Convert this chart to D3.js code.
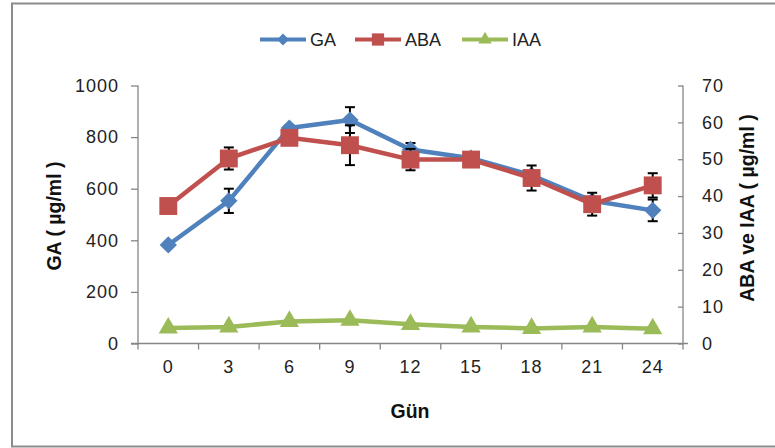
<!DOCTYPE html>
<html>
<head>
<meta charset="utf-8">
<script src="https://cdn.jsdelivr.net/npm/d3@7"></script>
<style>
  html, body { margin: 0; padding: 0; background: #fff; }
  svg { display: block; }
  .tick text { font-family: "Liberation Sans", Arial, sans-serif; }
</style>
</head>
<body>
<svg id="chart" width="775" height="448"></svg>
<script>
// Sampling days
const days = [0, 3, 6, 9, 12, 15, 18, 21, 24];

// GA (left axis, µg/ml)
const gaValues = [382, 553, 835, 866, 752, 718, 652, 553, 516];
const gaErrors = [8, 47, 10, 50, 25, 10, 12, 15, 42];

// ABA (right axis, µg/ml)
const abaValues = [37.3, 50.2, 55.8, 53.8, 49.9, 49.9, 44.9, 37.8, 42.9];
const abaErrors = [0.5, 3.0, 1.0, 5.4, 2.9, 0.5, 3.4, 3.1, 3.3];

// IAA (right axis, µg/ml)
const iaaValues = [4.2, 4.5, 6.0, 6.3, 5.2, 4.5, 4.1, 4.5, 4.0];
const iaaErrors = [0.3, 0.2, 0.3, 0.3, 0.2, 0.2, 0.3, 0.2, 0.3];

const leftTicks = [0, 200, 400, 600, 800, 1000];
const rightTicks = [0, 10, 20, 30, 40, 50, 60, 70];

const svg = d3.select("#chart");

// outer chart frame
svg.append("rect")
  .attr("x", 12).attr("y", 3.5)
  .attr("width", 800).attr("height", 443)
  .attr("fill", "none").attr("stroke", "#8c8c8c").attr("stroke-width", 2);

const plot = { left: 138, right: 683, top: 85.5, bottom: 343.5 };

const x = d3.scaleBand().domain(days).range([plot.left, plot.right]).padding(0);
const xc = d => x(d) + x.bandwidth() / 2;
const yL = d3.scaleLinear().domain([0, 1000]).range([plot.bottom, plot.top]);
const yR = d3.scaleLinear().domain([0, 70]).range([plot.bottom, plot.top]);

const axisColor = "#868686";
const fontTick = "18px";

// left axis
const gL = svg.append("g").attr("transform", `translate(${plot.left},0)`)
  .call(d3.axisLeft(yL).tickValues(leftTicks).tickSize(7).tickPadding(12).tickFormat(d3.format("d")));
// right axis
const gR = svg.append("g").attr("transform", `translate(${plot.right},0)`)
  .call(d3.axisLeft(yR).tickValues(rightTicks).tickSize(5).tickPadding(0).tickFormat(d3.format("d")));
gR.selectAll(".tick text").attr("x", 19).attr("text-anchor", "start");
// bottom axis (labels at category centres, ticks at category boundaries)
const gB = svg.append("g").attr("transform", `translate(0,${plot.bottom})`)
  .call(d3.axisBottom(x).tickSize(0).tickPadding(24));
gB.selectAll(".tick text").attr("dy", "0.3em");
const boundaries = d3.range(days.length + 1).map(i => plot.left + i * x.step());
gB.selectAll("line.bnd").data(boundaries).join("line").attr("class", "bnd")
  .attr("x1", d => d).attr("x2", d => d).attr("y1", 0).attr("y2", 6)
  .attr("stroke", axisColor).attr("stroke-width", 1.3);

[gL, gR, gB].forEach(g => {
  g.selectAll(".domain").attr("stroke", axisColor).attr("stroke-width", 1.3);
  g.selectAll(".tick line").attr("stroke", axisColor).attr("stroke-width", 1.3);
  g.selectAll(".tick text").attr("fill", "#222").style("font-size", fontTick)
    .style("letter-spacing", "1px");
});
gL.select(".domain").attr("d", `M0,${plot.top}V${plot.bottom}`);
gR.select(".domain").attr("d", `M0,${plot.top}V${plot.bottom}`);
gB.select(".domain").attr("d", `M${plot.left - 7},0H${plot.right + 5}`);

// axis titles
const titleFont = "Liberation Sans, Arial, sans-serif";
const titleSize = 19.5;
svg.append("text")
  .attr("transform", `translate(54,216) rotate(-90)`)
  .attr("text-anchor", "middle").attr("dominant-baseline", "central")
  .attr("font-family", titleFont).attr("font-weight", "bold").attr("font-size", titleSize)
  .attr("fill", "#111").text("GA ( µg/ml )");
svg.append("text")
  .attr("transform", `translate(747,208) rotate(-90)`)
  .attr("text-anchor", "middle").attr("dominant-baseline", "central")
  .attr("font-family", titleFont).attr("font-weight", "bold").attr("font-size", titleSize)
  .attr("fill", "#111").text("ABA ve IAA ( µg/ml )");
svg.append("text")
  .attr("x", 410).attr("y", 411)
  .attr("text-anchor", "middle").attr("dominant-baseline", "central")
  .attr("font-family", titleFont).attr("font-weight", "bold").attr("font-size", titleSize)
  .attr("fill", "#111").text("Gün");

// marker shapes
const diamond = d3.symbol().type(d3.symbolSquare).size(150);
const square = d3.symbol().type(d3.symbolSquare).size(320);
const triangle = d3.symbol().type(d3.symbolTriangle).size(160);

const series = [
  { name: "GA", values: gaValues, errors: gaErrors, y: yL, color: "#4F81BD", sym: diamond, rot: 45 },
  { name: "ABA", values: abaValues, errors: abaErrors, y: yR, color: "#C0504D", sym: square, rot: 0 },
  { name: "IAA", values: iaaValues, errors: iaaErrors, y: yR, color: "#9BBB59", sym: triangle, rot: 0 }
];

series.forEach(s => {
  const pts = days.map((d, i) => ({ d, v: s.values[i], e: s.errors[i] }));
  const g = svg.append("g");
  g.append("path")
    .datum(pts)
    .attr("fill", "none").attr("stroke", s.color).attr("stroke-width", 4.5)
    .attr("stroke-linejoin", "round")
    .attr("d", d3.line().x(p => xc(p.d)).y(p => s.y(p.v)));
  // error bars
  const eb = g.selectAll("g.err").data(pts).join("g").attr("class", "err")
    .attr("stroke", "#000").attr("stroke-width", 2);
  eb.append("line")
    .attr("x1", p => xc(p.d)).attr("x2", p => xc(p.d))
    .attr("y1", p => s.y(p.v + p.e)).attr("y2", p => s.y(p.v - p.e));
  eb.append("line")
    .attr("x1", p => xc(p.d) - 5).attr("x2", p => xc(p.d) + 5)
    .attr("y1", p => s.y(p.v + p.e)).attr("y2", p => s.y(p.v + p.e));
  eb.append("line")
    .attr("x1", p => xc(p.d) - 5).attr("x2", p => xc(p.d) + 5)
    .attr("y1", p => s.y(p.v - p.e)).attr("y2", p => s.y(p.v - p.e));
  // markers
  g.selectAll("path.mk").data(pts).join("path").attr("class", "mk")
    .attr("d", s.sym())
    .attr("transform", p => `translate(${xc(p.d)},${s.y(p.v)}) rotate(${s.rot})`)
    .attr("fill", s.color);
});

// legend
const legendItems = [
  { name: "GA", x: 260, color: "#4F81BD", sym: d3.symbol().type(d3.symbolSquare).size(70), rot: 45 },
  { name: "ABA", x: 355, color: "#C0504D", sym: d3.symbol().type(d3.symbolSquare).size(150), rot: 0 },
  { name: "IAA", x: 462, color: "#9BBB59", sym: d3.symbol().type(d3.symbolTriangle).size(80), rot: 0 }
];
const lg = svg.append("g").attr("transform", "translate(0,39.5)");
legendItems.forEach(it => {
  lg.append("line").attr("x1", it.x).attr("x2", it.x + 46).attr("y1", 0).attr("y2", 0)
    .attr("stroke", it.color).attr("stroke-width", 4);
  lg.append("path").attr("d", it.sym())
    .attr("transform", `translate(${it.x + 23},0) rotate(${it.rot})`).attr("fill", it.color);
  lg.append("text").attr("x", it.x + 50).attr("y", 0).attr("dominant-baseline", "central")
    .attr("font-family", "Liberation Sans, Arial, sans-serif").attr("font-size", 18)
    .attr("fill", "#222").text(it.name);
});
</script>
</body>
</html>
